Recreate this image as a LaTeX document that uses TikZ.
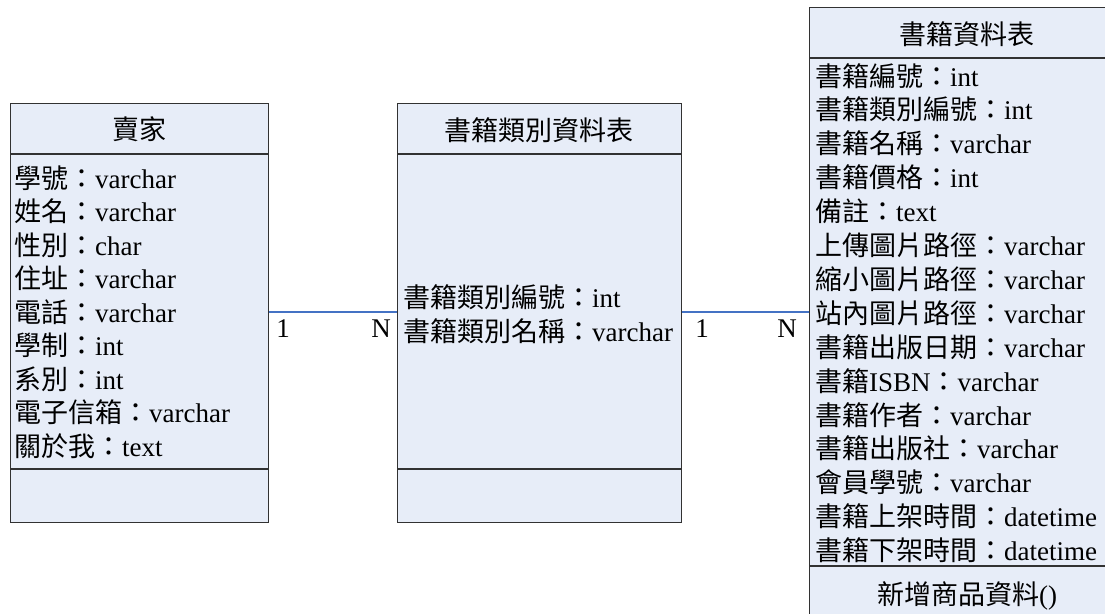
\documentclass[tikz,border=0pt]{standalone}
\usepackage{fontspec}
\setmainfont{Liberation Serif}
\newfontfamily\cjk{Noto Sans CJK TC}
\definecolor{boxfill}{RGB}{231,237,248}
\definecolor{boxline}{RGB}{50,50,50}
\definecolor{conn}{RGB}{68,114,196}
\begin{document}
\begin{tikzpicture}[x=1pt,y=-1pt,
  tbl/.style={draw=boxline, fill=boxfill, line width=1.2pt, anchor=north west, inner sep=0pt},
  sep/.style={draw=boxline, line width=1.2pt},
  row/.style={anchor=base west, inner sep=0pt, font=\fontsize{27}{33}\selectfont},
  ttl/.style={anchor=base, inner sep=0pt, font=\fontsize{27}{33}\selectfont},
  rel/.style={draw=conn, line width=2.2pt},
  card/.style={anchor=base, inner sep=0pt, font=\fontsize{27}{33}\selectfont}]
\useasboundingbox (0,0) rectangle (1105,613);
\clip (0,0) rectangle (1105,613);
% tables
\node[tbl, minimum width=258pt, minimum height=419pt] (seller) at (10,103) {};
\node[tbl, minimum width=284pt, minimum height=419pt] (cat) at (397,103) {};
\node[tbl, minimum width=316pt, minimum height=640pt] (book) at (809,6.5) {};
% dividers
\draw[sep] (seller.west |- 0,154) -- (seller.east |- 0,154);
\draw[sep] (seller.west |- 0,469) -- (seller.east |- 0,469);
\draw[sep] (cat.west |- 0,154) -- (cat.east |- 0,154);
\draw[sep] (cat.west |- 0,469) -- (cat.east |- 0,469);
\draw[sep] (book.west |- 0,58) -- (book.east |- 0,58);
\draw[sep] (book.west |- 0,566) -- (book.east |- 0,566);
% titles
\node[ttl] (t1) at (139,139) {\cjk 賣家};
\node[ttl] (t2) at (539,140) {\cjk 書籍類別資料表};
\node[ttl] (t3) at (967,44) {\cjk 書籍資料表};
\node[ttl] (m3) at (967,604) {{\cjk 新增商品資料}()};
% seller rows
\foreach \t [count=\i from 0] in {
  {{\cjk 學號：}varchar},
  {{\cjk 姓名：}varchar},
  {{\cjk 性別：}char},
  {{\cjk 住址：}varchar},
  {{\cjk 電話：}varchar},
  {{\cjk 學制：}int},
  {{\cjk 系別：}int},
  {{\cjk 電子信箱：}varchar},
  {{\cjk 關於我：}text}}
  \node[row] (s\i) at (14,188+33.5*\i) {\t};
% category rows
\node[row] (c0) at (403,307) {{\cjk 書籍類別編號：}int};
\node[row] (c1) at (403,341) {{\cjk 書籍類別名稱：}varchar};
% book rows
\foreach \t [count=\i from 0] in {
  {{\cjk 書籍編號：}int},
  {{\cjk 書籍類別編號：}int},
  {{\cjk 書籍名稱：}varchar},
  {{\cjk 書籍價格：}int},
  {{\cjk 備註：}text},
  {{\cjk 上傳圖片路徑：}varchar},
  {{\cjk 縮小圖片路徑：}varchar},
  {{\cjk 站內圖片路徑：}varchar},
  {{\cjk 書籍出版日期：}varchar},
  {{\cjk 書籍}ISBN{\cjk ：}varchar},
  {{\cjk 書籍作者：}varchar},
  {{\cjk 書籍出版社：}varchar},
  {{\cjk 會員學號：}varchar},
  {{\cjk 書籍上架時間：}datetime},
  {{\cjk 書籍下架時間：}datetime}}
  \node[row] (b\i) at (815,86+33.9*\i) {\t};
% relations
\draw[rel] (seller.east |- 0,312) -- (cat.west |- 0,312);
\draw[rel] (cat.east |- 0,312) -- (book.west |- 0,312);
\node[card] (r1a) at (283,337) {1};
\node[card] (r1b) at (381,337) {N};
\node[card] (r2a) at (702,337) {1};
\node[card] (r2b) at (787,337) {N};
\end{tikzpicture}
\end{document}
